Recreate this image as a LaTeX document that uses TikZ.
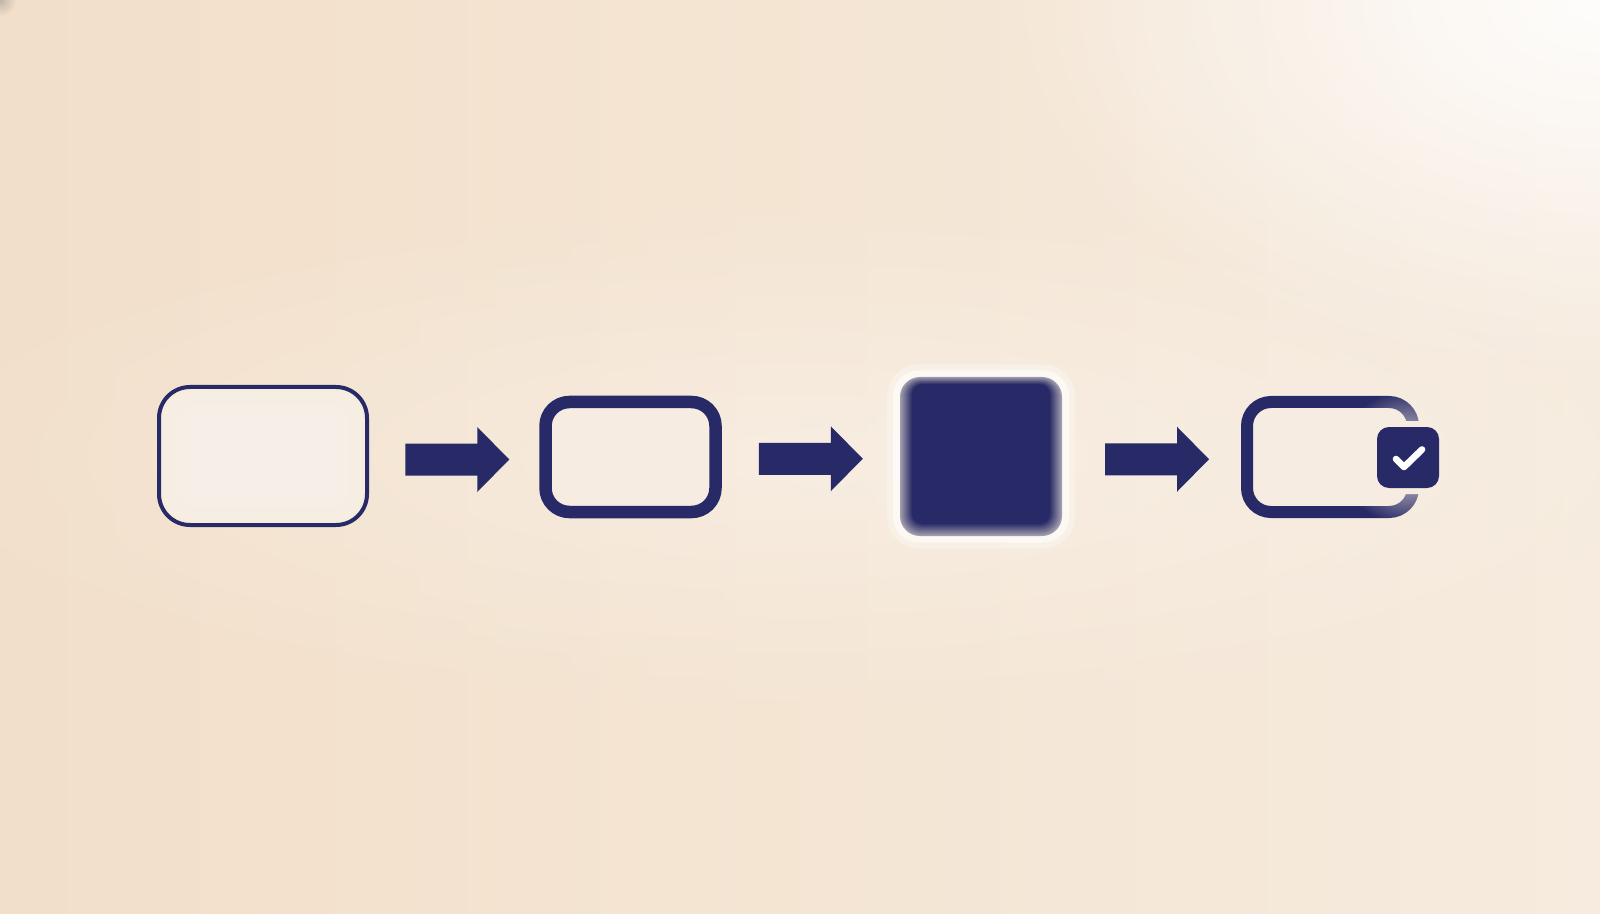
\documentclass[tikz,border=0pt]{standalone}
\usetikzlibrary{calc,fadings}
\definecolor{navy}{RGB}{39,42,102}
\definecolor{bgA}{RGB}{242,223,201}
\definecolor{bgB}{RGB}{246,235,222}
\definecolor{bgM}{RGB}{246,236,225}
\tikzfading[name=softdisc, inner color=transparent!0, outer color=transparent!100]
\tikzfading[name=haloedge, inner color=transparent!0, outer color=transparent!100]
\begin{document}
\begin{tikzpicture}[x=0.5pt,y=-0.5pt,
  flowbox/.style={draw=navy, fill=bgM, inner sep=0pt, outer sep=0pt},
  blockarrow/.style={fill=navy},
  tick/.style={draw=white, line width=3.3pt, line cap=round, line join=round}]
\useasboundingbox (0,0) rectangle (1600,914);
% background
\shade[left color=bgA, right color=bgB] (0,0) rectangle (1600,914);
\fill[white, opacity=0.9, path fading=softdisc] (1600,0) ellipse (600 and 380);
\fill[white, opacity=0.3, path fading=softdisc] (800,457) ellipse (950 and 260);
\fill[black!60, opacity=0.35, path fading=softdisc] (0,0) circle (16);
% box 1
\node[flowbox, line width=2pt, rounded corners=15.5pt, minimum width=104pt, minimum height=69pt] (b1) at (263,456) {};
\foreach \i in {6,12,18}{
  \fill[white, opacity=0.08, rounded corners=10pt] ($(b1.south west)+(\i,-\i)$) rectangle ($(b1.north east)+(-\i,\i)$);
}
% box 2
\node[flowbox, line width=6.25pt, rounded corners=12pt, minimum width=85pt, minimum height=55pt] (b2) at (630.5,457) {};
% box 3 (filled, soft)
\coordinate (c3) at (981,456.5);
\fill[white, opacity=0.3, rounded corners=16pt] ($(c3)+(-94,-92)$) rectangle ($(c3)+(94,92)$);
\fill[white, opacity=0.6, rounded corners=13pt] ($(c3)+(-88,-86)$) rectangle ($(c3)+(88,86)$);
\node[fill=navy!40!bgB, inner sep=0pt, outer sep=0pt, rounded corners=10pt, minimum width=81pt, minimum height=79.5pt] (b3) at (c3) {};
\foreach \i in {1,...,12}{
  \pgfmathsetmacro\pc{40+5*\i}
  \pgfmathsetmacro\rc{10-0.4*\i}
  \pgfmathsetmacro\ti{0.6*\i}
  \fill[navy!\pc!bgB, rounded corners=\rc pt] ($(b3.south west)+(\i,-\i)$) rectangle ($(b3.north east)+(-\i,\ti)$);
}
% box 4
\node[flowbox, line width=6pt, rounded corners=12pt, minimum width=83pt, minimum height=55pt] (b4) at (1330,457) {};
\coordinate (c4) at (1408,457.5);
\fill[bgM, path fading=haloedge] (c4) ellipse (68 and 68);
\fill[bgM, rounded corners=9pt] ($(c4)+(-37,-36.5)$) rectangle ($(c4)+(37,36.5)$);
\node[fill=navy, inner sep=0pt, outer sep=0pt, rounded corners=6pt, minimum width=31pt, minimum height=30.5pt] (ck) at (c4) {};
\draw[tick] ($(ck)+(-12,1.5)$) -- ($(ck)+(-4,9.5)$) -- ($(ck)+(14,-8)$);
% arrows between boxes
\coordinate (m1) at ($(b1.east)!0.5!(b2.west)+(1,3)$);
\coordinate (m2) at ($(b2.east)!0.5!(b3.west)+(3,2)$);
\coordinate (m3) at ($(b3.east)!0.5!(b4.west)+(2.5,2.5)$);
\foreach \m in {m1,m2,m3}{
  \fill[blockarrow] ($(\m)+(-52,-16)$) -- ++(72,0) -- ++(0,-16.5) -- ++(32,32.5) -- ++(-32,32.5) -- ++(0,-16.5) -- ++(-72,0) -- cycle;
}
\end{tikzpicture}
\end{document}
